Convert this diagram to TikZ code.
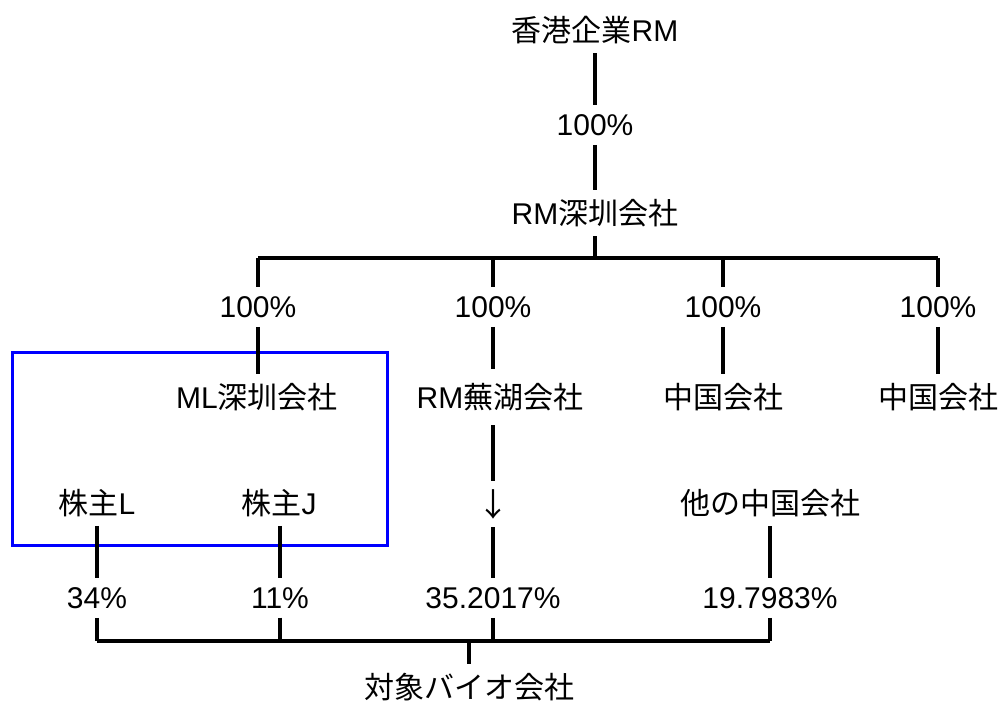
\documentclass[tikz,border=0pt]{standalone}
\usepackage{fontspec}
\setmainfont{Liberation Sans}
\newfontfamily\jp{Noto Sans CJK JP}
\begin{document}
\begin{tikzpicture}[x=1pt,y=-1pt,
  lbl/.style={font=\fontsize{30}{34}\selectfont, inner xsep=0pt, inner ysep=9pt, anchor=center},
  ln/.style={line width=3.2pt, line cap=butt},
  frame/.style={draw=blue, line width=3pt}]
\useasboundingbox (0,0) rectangle (1003,704);
% blue frame
\draw[frame] (12,352) rectangle (387,545);
% nodes
\node[lbl] (hk) at (595,30) {{\jp 香港企業}RM};
\node[lbl] (pA) at (595,125) {100\%};
\node[lbl] (rmsz) at (595,213) {RM{\jp 深圳会社}};
\coordinate (busC) at (595,258);
\coordinate (b1) at (258,258);
\coordinate (b2) at (493,258);
\coordinate (b3) at (723,258);
\coordinate (b4) at (938,258);
\node[lbl] (p1) at (258,307) {100\%};
\node[lbl] (p2) at (493,307) {100\%};
\node[lbl] (p3) at (723,307) {100\%};
\node[lbl] (p4) at (938,307) {100\%};
\node[lbl] (ml) at (257,397) {ML{\jp 深圳会社}};
\node[lbl, inner ysep=14pt] (wuhu) at (500,397) {RM{\jp 蕪湖会社}};
\node[lbl, inner ysep=8pt, font=\jp\fontsize{32}{36}\selectfont] (arr) at (493,504) {↓};
\node[lbl] (cn1) at (723,397) {{\jp 中国会社}};
\node[lbl] (cn2) at (938,397) {{\jp 中国会社}};
\node[lbl] (shL) at (97,503) {{\jp 株主}L};
\node[lbl] (shJ) at (279,503) {{\jp 株主}J};
\node[lbl] (oth) at (770,503) {{\jp 他の中国会社}};
\node[lbl] (q1) at (97,598) {34\%};
\node[lbl] (q2) at (280,598) {11\%};
\node[lbl] (q3) at (493,598) {35.2017\%};
\node[lbl] (q4) at (770,598) {19.7983\%};
\coordinate (c1) at (97,641);
\coordinate (c2) at (280,641);
\coordinate (c3) at (493,641);
\coordinate (c4) at (770,641);
\coordinate (cT) at (469,641);
\node[lbl] (tgt) at (469,687) {{\jp 対象バイオ会社}};
% connectors
\draw[ln] (hk) -- (pA);
\draw[ln] (pA) -- (rmsz);
\draw[ln] (rmsz) -- (busC);
\draw[ln] (b1) -- (b4);
\draw[ln] (b1) -- (p1);
\draw[ln] (b2) -- (p2);
\draw[ln] (b3) -- (p3);
\draw[ln] (b4) -- (p4);
\draw[ln] (p1) -- (p1 |- ml.north);
\draw[ln] (p2) -- (p2 |- wuhu.north);
\draw[ln] (p3) -- (cn1);
\draw[ln] (p4) -- (cn2);
\draw[ln] (arr |- wuhu.south) -- (arr);
\draw[ln] (arr) -- (q3);
\draw[ln] (shL) -- (q1);
\draw[ln] (shJ.south -| q2) -- (q2);
\draw[ln] (oth) -- (q4);
\draw[ln] (q1) -- (c1);
\draw[ln] (q2) -- (c2);
\draw[ln] (q3) -- (c3);
\draw[ln] (q4) -- (c4);
\draw[ln] (c1) -- (c4);
\draw[ln] (cT) -- (tgt);
\end{tikzpicture}
\end{document}
